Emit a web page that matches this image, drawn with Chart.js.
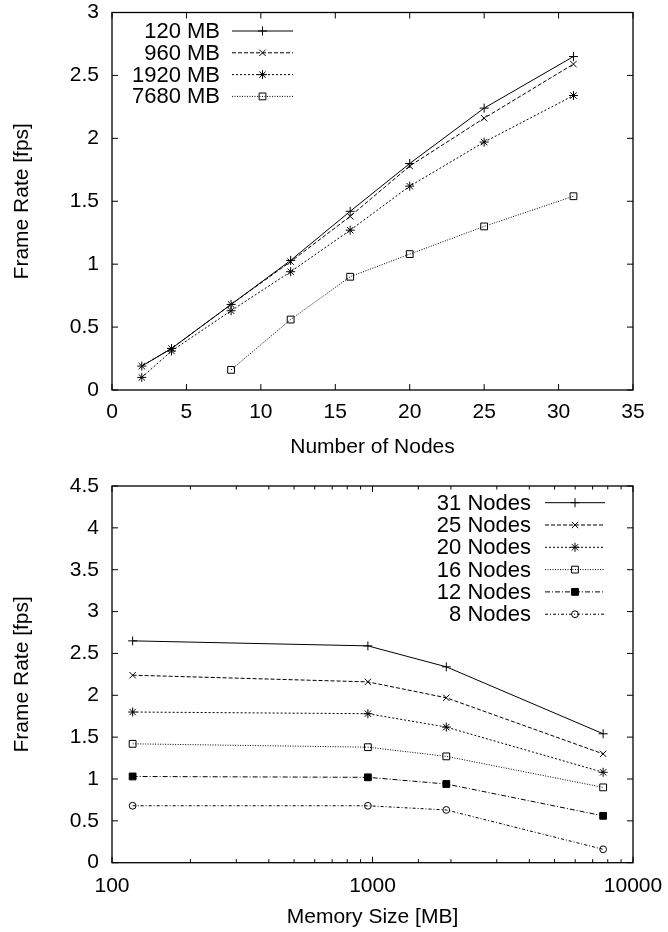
<!DOCTYPE html>
<html><head><meta charset="utf-8">
<script src="https://cdn.jsdelivr.net/npm/chart.js@4.4.1/dist/chart.umd.min.js"></script>
<style>
html,body{margin:0;padding:0;background:#fff;}
.wrap{position:absolute;left:0;width:668px;height:466px;}
</style></head><body>
<div class="wrap" style="top:0"><canvas id="c1"></canvas></div>
<div class="wrap" style="top:466px"><canvas id="c2"></canvas></div>
<script>
// ---- Top chart data: frame rate vs number of nodes ----
const nodes = [2, 4, 8, 12, 16, 20, 25, 31];
const mb120  = [0.19, 0.33, 0.68, 1.03, 1.42, 1.80, 2.24, 2.65];
const mb960  = [0.19, 0.33, 0.68, 1.02, 1.38, 1.78, 2.16, 2.59];
const mb1920 = [0.10, 0.31, 0.63, 0.94, 1.27, 1.62, 1.97, 2.34];
const mb7680 = [null, null, 0.16, 0.56, 0.90, 1.08, 1.30, 1.54];
const topLabels = ['120 MB', '960 MB', '1920 MB', '7680 MB'];

// ---- Bottom chart data: frame rate vs memory size ----
const memSizes = [120, 960, 1920, 7680];
const nodes31 = [2.65, 2.59, 2.34, 1.54];
const nodes25 = [2.24, 2.16, 1.97, 1.30];
const nodes20 = [1.80, 1.78, 1.62, 1.08];
const nodes16 = [1.42, 1.38, 1.27, 0.90];
const nodes12 = [1.03, 1.02, 0.94, 0.56];
const nodes8  = [0.68, 0.68, 0.63, 0.16];
const bottomLabels = ['31 Nodes', '25 Nodes', '20 Nodes', '16 Nodes', '12 Nodes', '8 Nodes'];

const FONT = '"Liberation Sans", Arial, Helvetica, sans-serif';

const styles = [
  {dash: [], ps: 'cross', r: 4.5, bg: 'rgba(0,0,0,0)'},
  {dash: [4, 2], ps: 'crossRot', r: 4.5, bg: 'rgba(0,0,0,0)'},
  {dash: [2, 2], ps: 'star', r: 4.5, bg: 'rgba(0,0,0,0)'},
  {dash: [1, 1.5], ps: 'rect', r: 4.8, bg: 'rgba(0,0,0,0)'},
  {dash: [5, 2, 1, 2], ps: 'rect', r: 4.8, bg: '#000'},
  {dash: [3, 2, 1, 2], ps: 'circle', r: 3.4, bg: 'rgba(0,0,0,0)'}
];

function mkDs(label, xs, ys, st) {
  const data = [];
  xs.forEach((x, i) => { if (ys[i] !== null) data.push({x: x, y: ys[i]}); });
  return {
    label: label, data: data,
    borderColor: '#000', borderWidth: 1, borderDash: st.dash,
    pointStyle: st.ps, pointRadius: st.r, pointHoverRadius: st.r,
    pointBorderColor: '#000', pointBorderWidth: 1, pointBackgroundColor: st.bg,
    fill: false, tension: 0
  };
}

const framePlugin = {
  id: 'frame',
  afterDraw(chart, args, o) {
    const ctx = chart.ctx, a = chart.chartArea;
    ctx.save();
    ctx.setLineDash([]);
    ctx.strokeStyle = '#000';
    ctx.lineWidth = 1.3;
    ctx.strokeRect(a.left, a.top, a.right - a.left, a.bottom - a.top);
    ctx.lineWidth = 1;
    ctx.beginPath();
    const xs = chart.scales.x, ys = chart.scales.y;
    xs.ticks.forEach(t => {
      const p = xs.getPixelForValue(t.value);
      let len = 6;
      if (o.log) {
        const lg = Math.log10(t.value);
        len = Math.abs(lg - Math.round(lg)) < 1e-6 ? 6 : 3.5;
      }
      ctx.moveTo(p, a.bottom); ctx.lineTo(p, a.bottom - len);
      ctx.moveTo(p, a.top); ctx.lineTo(p, a.top + len);
    });
    ys.ticks.forEach(t => {
      const p = ys.getPixelForValue(t.value);
      ctx.moveTo(a.left, p); ctx.lineTo(a.left + 6, p);
      ctx.moveTo(a.right, p); ctx.lineTo(a.right - 6, p);
    });
    ctx.stroke();
    ctx.restore();
  }
};

const legendPlugin = {
  id: 'gpLegend',
  afterDraw(chart, args, o) {
    const ctx = chart.ctx;
    ctx.save();
    ctx.font = '22px ' + FONT;
    ctx.textAlign = 'right';
    ctx.textBaseline = 'middle';
    chart.data.datasets.forEach((ds, i) => {
      const y = o.y0 + i * o.dy;
      ctx.fillStyle = '#000';
      ctx.fillText(ds.label, o.tx, y + 1);
      ctx.strokeStyle = '#000';
      ctx.lineWidth = 1;
      ctx.setLineDash(ds.borderDash || []);
      ctx.beginPath();
      ctx.moveTo(o.l1, y); ctx.lineTo(o.l2, y);
      ctx.stroke();
      ctx.setLineDash([]);
      ctx.fillStyle = ds.pointBackgroundColor;
      ctx.strokeStyle = '#000';
      Chart.helpers.drawPoint(ctx, {pointStyle: ds.pointStyle, radius: ds.pointRadius, rotation: 0, borderWidth: 1}, (o.l1 + o.l2) / 2, y);
    });
    ctx.restore();
  }
};

function baseOptions(xScale, yTitle, xTitle, xTitlePad, legendOpts, isLog) {
  return {
    responsive: true, maintainAspectRatio: false, animation: false,
    layout: {padding: {top: 0, right: 35, bottom: 0, left: 0}},
    plugins: {legend: {display: false}, tooltip: {enabled: false}, gpLegend: legendOpts, frame: {log: isLog}},
    scales: {
      x: Object.assign(xScale, {
        grid: {display: false, drawTicks: false},
        border: {display: false},
        title: {display: true, text: xTitle, color: '#000', font: {family: FONT, size: 21}, padding: {top: 0, bottom: xTitlePad}}
      }),
      y: {
        type: 'linear', min: 0,
        grid: {display: false, drawTicks: false},
        border: {display: false},
        title: {display: true, text: yTitle, color: '#000', font: {family: FONT, size: 21}, padding: {top: 10, bottom: 0}},
        afterFit: s => { s.width = 112; s.paddingTop = 0; s.paddingBottom = 0; }
      }
    }
  };
}

// ---- Top chart ----
const topSets = [mb120, mb960, mb1920, mb7680].map((arr, i) => mkDs(topLabels[i], nodes, arr, styles[i]));
const opt1 = baseOptions({
  type: 'linear', min: 0, max: 35,
  ticks: {stepSize: 5, color: '#000', font: {family: FONT, size: 21}, padding: 10, maxRotation: 0, callback: v => String(v)},
  afterFit: s => { s.height = 76; s.paddingLeft = 0; s.paddingRight = 0; }
}, 'Frame Rate [fps]', 'Number of Nodes', 6.5, {tx: 220, l1: 232, l2: 293, y0: 31, dy: 21.8}, false);
opt1.layout.padding.top = 12.5;
opt1.scales.y.max = 3;
opt1.scales.y.ticks = {stepSize: 0.5, color: '#000', font: {family: FONT, size: 21}, padding: 13, callback: v => String(v)};
new Chart(document.getElementById('c1'), {type: 'line', data: {datasets: topSets}, options: opt1, plugins: [framePlugin, legendPlugin]});

// ---- Bottom chart ----
const botSets = [nodes31, nodes25, nodes20, nodes16, nodes12, nodes8].map((arr, i) => mkDs(bottomLabels[i], memSizes, arr, styles[i]));
const opt2 = baseOptions({
  type: 'logarithmic', min: 100, max: 10000,
  ticks: {autoSkip: false, color: '#000', font: {family: FONT, size: 21}, padding: 10.5, maxRotation: 0,
    callback: v => { const lg = Math.log10(v); return Math.abs(lg - Math.round(lg)) < 1e-6 ? String(v) : ''; }},
  afterFit: s => { s.height = 69.3; s.paddingLeft = 0; s.paddingRight = 0; }
}, 'Frame Rate [fps]', 'Memory Size [MB]', 2.5, {tx: 531, l1: 545, l2: 605, y0: 36.7, dy: 22.3}, true);
opt2.layout.padding.top = 20;
opt2.scales.y.max = 4.5;
opt2.scales.y.ticks = {stepSize: 0.5, color: '#000', font: {family: FONT, size: 21}, padding: 13, callback: v => String(v)};
new Chart(document.getElementById('c2'), {type: 'line', data: {datasets: botSets}, options: opt2, plugins: [framePlugin, legendPlugin]});
</script>
</body></html>
